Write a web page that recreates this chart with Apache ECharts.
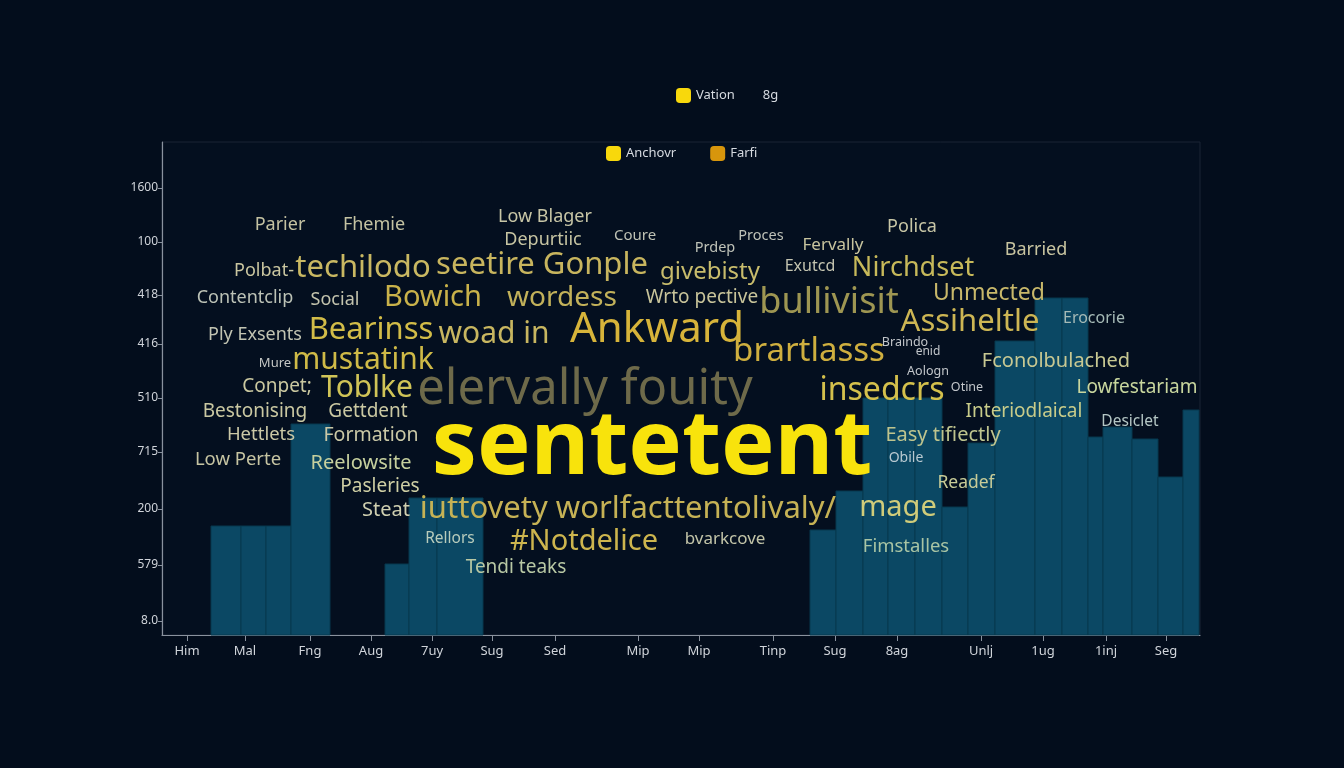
<!DOCTYPE html>
<html><head><meta charset="utf-8">
<script src="https://cdn.jsdelivr.net/npm/echarts@6/dist/echarts.min.js"></script>
<style>html,body{margin:0;padding:0;background:#030d1c;}#c{width:1344px;height:768px;}</style>
</head><body><div id="c"></div>
<script>
// ---- data ----
const yTickValues = [14, 70, 126, 183, 237, 291, 340, 393, 447];
const yTickLabels = ['8.0', '579', '200', '715', '510', '416', '418', '100', '1600'];
const xTickValues = [25, 83, 148, 209, 270, 330, 393, 476, 537, 611, 673, 735, 819, 881, 944, 1004];
const xTickLabels = ['Him', 'Mal', 'Fng', 'Aug', '7uy', 'Sug', 'Sed', 'Mip', 'Mip', 'Tinp', 'Sug', '8ag', 'Unlj', '1ug', '1inj', 'Seg'];
const barStart = [49, 79, 104, 129, 223, 247, 275, 648, 674, 701, 726, 753, 780, 806, 833, 873, 900, 926, 941, 970, 996, 1021];
const barEnd   = [79, 104, 129, 168, 247, 275, 321, 674, 701, 726, 753, 780, 806, 833, 873, 900, 926, 941, 970, 996, 1021, 1037];
const barValues = [109, 109, 109, 211, 71, 137, 137, 105, 144, 237, 237, 237, 128, 192, 294, 337, 337, 198, 208, 196, 158, 225];
const words = ['Parier','Fhemie','Low Blager','Depurtiic','Coure','Prdep','Proces','Fervally','Polica','Barried',
  'Polbat-','techilodo','seetire Gonple','givebisty','Exutcd','Nirchdset',
  'Contentclip','Social','Bowich','wordess','Wrto pective','bullivisit','Unmected',
  'Ply Exsents','Bearinss','woad in','Ankward','Assiheltle','Erocorie',
  'Mure','mustatink','brartlasss','Braindo','enid','Fconolbulached',
  'Conpet;','Toblke','elervally fouity','Aologn','insedcrs','Otine','Lowfestariam',
  'Bestonising','Gettdent','Interiodlaical','Desiclet',
  'Hettlets','Formation','sentetent','Easy tifiectly',
  'Low Perte','Reelowsite','Obile',
  'Pasleries','Readef','Steat','iuttovety worlfacttentolivaly/','mage',
  'Rellors','#Notdelice','bvarkcove','Fimstalles','Tendi teaks'];
const wordWeights = [18,18,18,18,15,14.5,14.5,17,18,18,
  18,31,31,24,16,27,
  18,18,29,28,19,36,23,
  18,31,30,42,31,16,
  13,30,33,12.5,12,20,
  19,30,49,12.5,32,12.5,19,
  19,19,19,15.5,
  18.5,19.5,90,20,
  18.5,20,14,
  19,17.5,20,31,29,
  15.5,29,17,18.5,19];

// ---- layout (word positions in axis units) and styles ----
const wordLayout = [[280,225],[374,225],[545,217],[543,240],[635,236],[715,248],[761,236],[833,245],[912,227],[1036,250],
  [264,271],[363,268],[542,265],[710,272],[810,266],[913,268],
  [245,298],[335,300],[433,298],[562,298],[702,298],[829,303],[989,293],
  [255,335],[371,330],[494,334],[657,330],[970,322],[1094,318],
  [275,363],[363,360],[809,352],[905,342],[928,352],[1056,361],
  [277,387],[367,388],[585,390],[928,371],[882,391],[967,387],[1137,388],
  [255,412],[368,412],[1024,412],[1130,422],
  [261,435],[371,435],[652,448],[943,435],
  [238,460],[361,463],[906,458],
  [380,487],[966,483],[386,510],[628,509],[898,508],
  [450,539],[584,542],[725,539],[906,547],[516,568]].map(p => [p[0] - 162, 635 - p[1]]);
const wordColors = ['#c4c2a2','#c4c2a2','#c8c6a6','#c6c4a2','#bfc2b4','#bfc2b8','#bfc2b8','#c8c49e','#c8c6a6','#c8c4a0',
  '#cac6a0','#c9b862','#c8b55e','#c8bc6c','#c4c4b0','#c7b95a',
  '#bcc2b6','#c4c4ae','#c9b24a','#c2b15a','#c8c49a','#9e9652','#c8b86a',
  '#c2c4b2','#d2bc48','#c8b660','#d7b43a','#cdb654','#a6bab6',
  '#c4c6c4','#cfba47','#cfaf3f','#c2c6ca','#c2c6ca','#c8c892',
  '#cac8a0','#d0c457','#6e6a4a','#c2c6ca','#d4c04c','#c2c6ca','#c8d69e',
  '#cac8a2','#cac8a2','#c8cc8a','#b4c6c4',
  '#cac8a6','#cac8a6','#f8e30c','#bec48e',
  '#c6c4a2','#c6d09e','#b8c8d0',
  '#cfcfa4','#c8cc98','#cfcfb0','#c6b255','#d0cc7a',
  '#b8ccbc','#cdb54e','#c2c4a8','#a8c4a4','#b8c8a4'];

const chart = echarts.init(document.getElementById('c'));
const tickLabel = (vals, labels) => v => { const i = vals.findIndex(t => Math.abs(t - v) < 0.5); return i >= 0 ? labels[i] : ''; };
const legendSeries = (name, color) => ({ name, type: 'scatter', data: [], itemStyle: { color, opacity: 1 } });

chart.setOption({
  backgroundColor: '#030d1c',
  animation: false,
  textStyle: { fontFamily: 'Noto Sans' },
  legend: [
    { left: 671, top: 83, itemWidth: 15, itemHeight: 15, itemGap: 8, icon: 'roundRect',
      textStyle: { color: '#d6dae0', fontSize: 13 },
      data: [{ name: 'Vation' }, { name: '8g', icon: 'none' }] },
    { left: 601, top: 141, itemWidth: 15, itemHeight: 15, itemGap: 34, icon: 'roundRect',
      textStyle: { color: '#d6dae0', fontSize: 13 },
      data: [{ name: 'Anchovr' }, { name: 'Farfi' }] }
  ],
  grid: { left: 162, top: 142, width: 1038, height: 493, show: true, borderColor: '#1a2434', borderWidth: 1, backgroundColor: '#040f1f' },
  xAxis: {
    type: 'value', min: 0, max: 1038,
    splitLine: { show: false },
    axisLine: { show: true, lineStyle: { color: '#8a929e', width: 1.2 } },
    axisTick: { show: true, length: 6, customValues: xTickValues, lineStyle: { color: '#8a929e' } },
    axisLabel: { customValues: xTickValues, formatter: tickLabel(xTickValues, xTickLabels), color: '#d0d4da', fontSize: 13, margin: 10 }
  },
  yAxis: {
    type: 'value', min: 0, max: 493,
    splitLine: { show: false },
    axisLine: { show: true, lineStyle: { color: '#8a929e', width: 1.2 } },
    axisTick: { show: true, length: 4, customValues: yTickValues, lineStyle: { color: '#8a929e' } },
    axisLabel: { customValues: yTickValues, formatter: tickLabel(yTickValues, yTickLabels), color: '#d0d4da', fontSize: 12, margin: 4 }
  },
  series: [
    legendSeries('Vation', '#f8d80c'),
    legendSeries('8g', '#f8d80c'),
    legendSeries('Anchovr', '#f8d80c'),
    legendSeries('Farfi', '#d8960c'),
    {
      name: 'bars', type: 'custom', z: 2,
      encode: { x: [0, 1], y: 2 },
      data: barStart.map((s, i) => [s, barEnd[i], barValues[i]]),
      renderItem: (params, api) => {
        const p0 = api.coord([api.value(0), api.value(2)]);
        const p1 = api.coord([api.value(1), 0]);
        return { type: 'rect', shape: { x: p0[0], y: p0[1], width: p1[0] - p0[0], height: p1[1] - p0[1] },
          style: { fill: '#0b4864', stroke: '#07384f', lineWidth: 1 } };
      }
    },
    {
      name: 'words', type: 'scatter', z: 5, symbolSize: 1,
      itemStyle: { color: 'transparent', opacity: 1 },
      label: { show: true, position: 'inside', formatter: '{b}', align: 'center', verticalAlign: 'middle' },
      data: words.map((w, i) => ({
        name: w, value: wordLayout[i],
        label: { fontSize: wordWeights[i], color: wordColors[i], fontWeight: wordWeights[i] > 60 ? 'bold' : 'normal' }
      }))
    }
  ]
});
</script></body></html>
